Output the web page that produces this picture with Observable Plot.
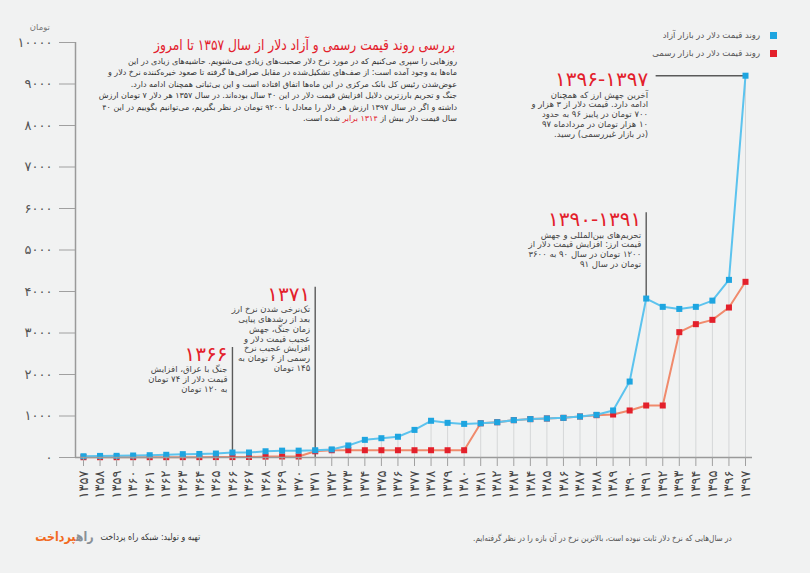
<!DOCTYPE html>
<html>
<head>
<meta charset="utf-8">
<script src="https://cdn.jsdelivr.net/npm/d3@7"></script>
<script src="https://cdn.jsdelivr.net/npm/@observablehq/plot@0.6"></script>
<style>
  html, body { margin: 0; padding: 0; background: #f1f2f2; }
  #wrap { position: relative; width: 810px; height: 573px; background: #f1f2f2; overflow: hidden;
          font-family: "DejaVu Sans", sans-serif; }
  #chart { position: absolute; left: 0; top: 0; }
  .ov { position: absolute; direction: rtl; text-align: right; white-space: nowrap; transform-origin: 100% 50%; }
  .red { color: #e3202b; }
</style>
</head>
<body>
<div id="wrap">
  <div id="chart"></div>
  <div class="ov" style="right:760px; top:22px; font-size:8.5px; color:#777;">تومان</div>
  <div class="ov red" style="right:355px; top:36px; font-size:15px; line-height:18px; transform:scaleX(0.82);">بررسی روند قیمت رسمی و آزاد دلار از سال ۱۳۵۷ تا امروز</div>
  <div class="ov" id="para" style="right:353px; top:56px; font-size:8px; line-height:11.4px; color:#333;">
    روزهایی را سپری می‌کنیم که در مورد نرخ دلار صحبت‌های زیادی می‌شنویم. حاشیه‌های زیادی در این<br>
    ماه‌ها به وجود آمده است: از صف‌های تشکیل‌شده در مقابل صرافی‌ها گرفته تا صعود خیره‌کننده نرخ دلار و<br>
    عوض‌شدن رئیس کل بانک مرکزی در این ماه‌ها اتفاق افتاده است و این بی‌ثباتی همچنان ادامه دارد.<br>
    جنگ و تحریم بارزترین دلایل افزایش قیمت دلار در این ۴۰ سال بوده‌اند. در سال ۱۳۵۷ هر دلار ۷ تومان ارزش<br>
    داشته و اگر در سال ۱۳۹۷ ارزش هر دلار را معادل با ۹۲۰۰ تومان در نظر بگیریم، می‌توانیم بگوییم در این ۴۰<br>
    سال قیمت دلار بیش از <span class="red">۱۳۱۴ برابر</span> شده است.
  </div>
  <div class="ov" style="right:50px; top:29px; font-size:8.5px; line-height:12px; color:#555;">روند قیمت دلار در بازار آزاد</div>
  <div style="position:absolute; left:770px; top:32px; width:7px; height:7px; background:#1ea5e0;"></div>
  <div class="ov" style="right:50px; top:47px; font-size:8.5px; line-height:12px; color:#555;">روند قیمت دلار در بازار رسمی</div>
  <div style="position:absolute; left:770px; top:50px; width:7px; height:7px; background:#e3202b;"></div>
  <div class="ov" style="right:716px; top:529px; font-size:13px; font-weight:bold; line-height:16px; transform:scaleX(0.85);"><span style="color:#8a9096;">راه</span><span style="color:#f26a21;">پرداخت</span></div>
  <div class="ov" style="right:610px; top:531px; font-size:9px; line-height:12px; color:#333; transform:scaleX(0.88);">تهیه و تولید: شبکه راه پرداخت</div>
  <div class="ov" style="right:78px; top:532px; font-size:8.5px; line-height:12px; color:#555; transform:scaleX(0.86);">در سال‌هایی که نرخ دلار ثابت نبوده است، بالاترین نرخ در آن بازه را در نظر گرفته‌ایم.</div>
</div>
<script>
// ---- data ----
const years = [1357,1358,1359,1360,1361,1362,1363,1364,1365,1366,1367,1368,1369,1370,1371,1372,1373,1374,1375,1376,1377,1378,1379,1380,1381,1382,1383,1384,1385,1386,1387,1388,1389,1390,1391,1392,1393,1394,1395,1396,1397];
const freeMarket = [30,38,40,48,55,65,80,85,95,120,120,150,165,165,175,195,290,425,465,500,665,885,835,810,825,850,900,925,940,955,988,1028,1133,1830,3830,3630,3580,3630,3780,4280,9200];
const official = [7,7,7,8,8,8,9,9,10,10,12,22,25,25,150,175,175,175,175,175,175,175,175,175,825,850,900,925,940,955,988,1020,1036,1133,1253,1253,3020,3213,3317,3614,4233];
const xTickLabels = ["۱۳۵۷","۱۳۵۸","۱۳۵۹","۱۳۶۰","۱۳۶۱","۱۳۶۲","۱۳۶۳","۱۳۶۴","۱۳۶۵","۱۳۶۶","۱۳۶۷","۱۳۶۸","۱۳۶۹","۱۳۷۰","۱۳۷۱","۱۳۷۲","۱۳۷۳","۱۳۷۴","۱۳۷۵","۱۳۷۶","۱۳۷۷","۱۳۷۸","۱۳۷۹","۱۳۸۰","۱۳۸۱","۱۳۸۲","۱۳۸۳","۱۳۸۴","۱۳۸۵","۱۳۸۶","۱۳۸۷","۱۳۸۸","۱۳۸۹","۱۳۹۰","۱۳۹۱","۱۳۹۲","۱۳۹۳","۱۳۹۴","۱۳۹۵","۱۳۹۶","۱۳۹۷"];
const yTicks = [0,1000,2000,3000,4000,5000,6000,7000,8000,9000,10000];
const yTickLabels = ["۰","۱۰۰۰","۲۰۰۰","۳۰۰۰","۴۰۰۰","۵۰۰۰","۶۰۰۰","۷۰۰۰","۸۰۰۰","۹۰۰۰","۱۰۰۰۰"];

// annotations: vertical markers (year, bottom value, top value)
const annoYears = [1366, 1371, 1391];
const annoBase = [0, 0, 3830];
const annoTop = [2650, 4100, 5900];
const annoTitles = ["۱۳۶۶", "۱۳۷۱", "۱۳۹۰-۱۳۹۱"];
const annoBodies = [
  ["جنگ با عراق، افزایش", "قیمت دلار از ۷۴ تومان", "به ۱۲۰ تومان"],
  ["تک‌نرخی شدن نرخ ارز", "بعد از رشدهای پیاپی", "زمان جنگ، جهش", "عجیب قیمت دلار و", "افزایش عجیب نرخ", "رسمی از ۶ تومان به", "۱۴۵ تومان"],
  ["تحریم‌های بین‌المللی و جهش", "قیمت ارز: افزایش قیمت دلار از", "۱۲۰۰ تومان در سال ۹۰ به ۳۶۰۰", "تومان در سال ۹۱"]
];
// last annotation: horizontal marker
const lastYear = 1397, lastValue = 9200, lastFrom = 1391.6;
const lastTitle = "۱۳۹۶-۱۳۹۷";
const lastBody = ["آخرین جهش ارز که همچنان", "ادامه دارد. قیمت دلار از ۳ هزار و", "۷۰۰ تومان در پاییز ۹۶ به حدود", "۱۰ هزار تومان در مردادماه ۹۷", "(در بازار غیررسمی) رسید."];

// ---- build ----
const rtl = s => "\u202B" + s + "\u202C";
const data = years.map((y, i) => ({year: y, free: freeMarket[i], official: official[i]}));
const annos = annoYears.map((y, i) => ({year: y, base: annoBase[i], top: annoTop[i],
  title: rtl(annoTitles[i]), body: annoBodies[i].map(rtl).join("\n")}));
const last = [{x1: lastFrom, x2: lastYear, y: lastValue, title: rtl(lastTitle), body: lastBody.map(rtl).join("\n")}];

const FONT = "DejaVu Sans";
const chart = Plot.plot({
  width: 810,
  height: 573,
  marginTop: 42,
  marginBottom: 116,
  marginLeft: 75,
  marginRight: 58,
  style: {background: "transparent", fontFamily: FONT, overflow: "visible"},
  x: {domain: [years[0], years[years.length - 1]], insetLeft: 8, insetRight: 7},
  y: {domain: [0, 10000]},
  marks: [
    Plot.ruleX(data, {x: "year", y1: 0, y2: "free", stroke: "#d5d7d8", strokeWidth: 1}),
    Plot.ruleX(annos, {x: "year", y1: "base", y2: "top", stroke: "#5a5a5a", strokeWidth: 1.4}),
    Plot.ruleY(last, {x1: "x1", x2: "x2", y: "y", stroke: "#5a5a5a", strokeWidth: 1.4}),
    Plot.line(data, {x: "year", y: "official", stroke: "#f08a6c", strokeWidth: 2}),
    Plot.dot(data, {x: "year", y: "official", symbol: "square", r: 3.4, fill: "#e3202b", stroke: null}),
    Plot.line(data, {x: "year", y: "free", stroke: "#5cc3ee", strokeWidth: 2}),
    Plot.dot(data, {x: "year", y: "free", symbol: "square", r: 3.4, fill: "#1ea5e0", stroke: null}),
    Plot.ruleY([0], {stroke: "#9a9a9a", strokeWidth: 1.5}),
    Plot.ruleX([years[0]], {dx: -8, y1: 0, y2: 10000, stroke: "#9a9a9a", strokeWidth: 1.5}),
    Plot.axisX({ticks: years, tickSize: 9, tickPadding: 4, tickRotate: -90,
      tickFormat: d => xTickLabels[years.indexOf(d)], fontSize: 13, stroke: "#a0a0a0", fill: "#444", label: null}),
    Plot.axisY({ticks: yTicks, tickSize: 16, tickPadding: 7,
      tickFormat: d => yTickLabels[yTicks.indexOf(d)], fontSize: 13, stroke: "#a0a0a0", fill: "#555", label: null}),
    Plot.text(annos, {x: "year", y: "top", text: "title", textAnchor: "end", lineAnchor: "top",
      dx: -5, dy: -1, fontSize: 20, fill: "#e3202b"}),
    Plot.text(annos, {x: "year", y: "top", text: "body", textAnchor: "end", lineAnchor: "top",
      dx: -5, dy: 18, fontSize: 8.5, lineHeight: 1.15, fill: "#444"}),
    Plot.text(last, {x: "x1", y: "y", text: "title", textAnchor: "end", lineAnchor: "middle",
      dx: -8, dy: 4, fontSize: 20, fill: "#e3202b"}),
    Plot.text(last, {x: "x1", y: "y", text: "body", textAnchor: "end", lineAnchor: "top",
      dx: -8, dy: 15, fontSize: 8.5, lineHeight: 1.15, fill: "#444"})
  ]
});
document.getElementById("chart").appendChild(chart);
</script>
</body>
</html>
